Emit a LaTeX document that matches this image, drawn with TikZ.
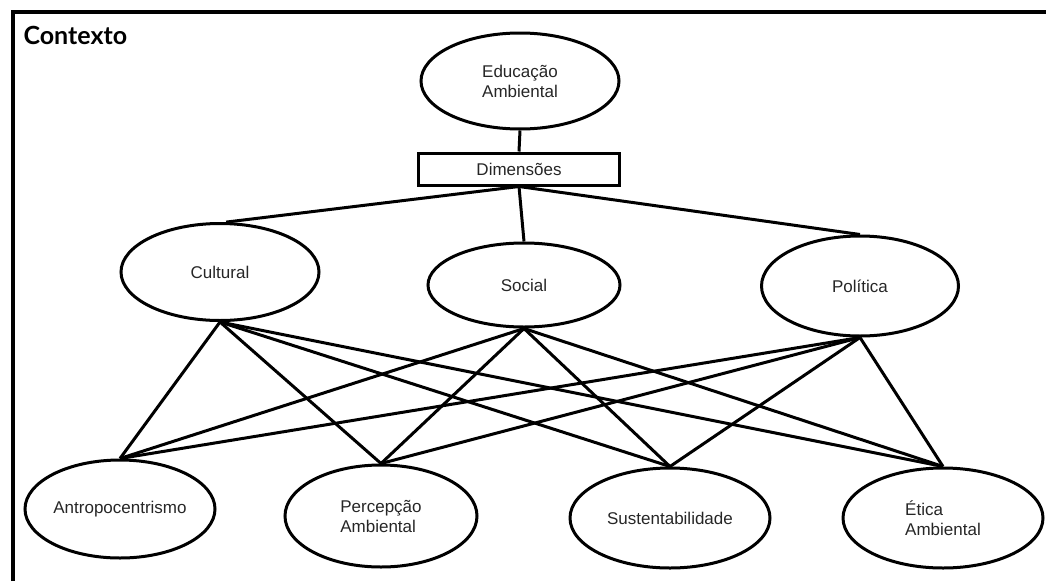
\documentclass[tikz,border=0pt]{standalone}
\usepackage{fontspec}
\setmainfont{Liberation Sans}
\newfontfamily\titlefont{Lato}
\usetikzlibrary{shapes.geometric}
\begin{document}
\begin{tikzpicture}[x=1pt,y=-1pt,
  oval/.style={draw=black,line width=3pt,ellipse,inner sep=0pt,align=center,
    font=\fontsize{17}{20}\selectfont,text=black!85},
  link/.style={draw=black,line width=3pt},
  labelbox/.style={draw=black,line width=3pt,rectangle,inner sep=0pt,
    minimum width=201pt,minimum height=32pt,font=\fontsize{17}{20}\selectfont,text=black!85}]
\useasboundingbox (0,0) rectangle (1046,581);
\draw[line width=3.5pt] (13,581) -- (13,12) -- (1046,12);
\node[anchor=west,font=\titlefont\bfseries\fontsize{25}{28}\selectfont] (ctx) at (20,35) {Contexto};

\node[oval,minimum width=198pt,minimum height=96pt] (ea) at (520,81) {Educação\\Ambiental};
\node[labelbox] (dim) at (519,169) {Dimensões};

\node[oval,minimum width=198pt,minimum height=97pt] (cul) at (220,272) {Cultural};
\node[oval,minimum width=192pt,minimum height=84pt] (soc) at (524,285) {Social};
\node[oval,minimum width=197pt,minimum height=100pt] (pol) at (860,286) {Política};

\node[oval,minimum width=190pt,minimum height=98pt] (ant) at (120,509) {Antropocentrismo};
\node[oval,align=left,minimum width=192pt,minimum height=102pt] (per) at (381,516) {Percepção\\Ambiental};
\node[oval,minimum width=200pt,minimum height=100pt] (sus) at (670,518) {Sustentabilidade};
\node[oval,align=left,minimum width=200pt,minimum height=100pt] (eti) at (943,518) {Ética\\Ambiental};

\draw[link] (ea.south) -- (dim.north);
\draw[link] (dim.south) -- (cul.83);
\draw[link] (dim.south) -- (soc.north);
\draw[link] (dim.south) -- (pol.north);

\foreach \m in {cul,soc,pol}{
  \foreach \b in {ant,per,sus,eti}{
    \draw[link] (\m.south) -- (\b.north);
  }
}
\end{tikzpicture}
\end{document}
